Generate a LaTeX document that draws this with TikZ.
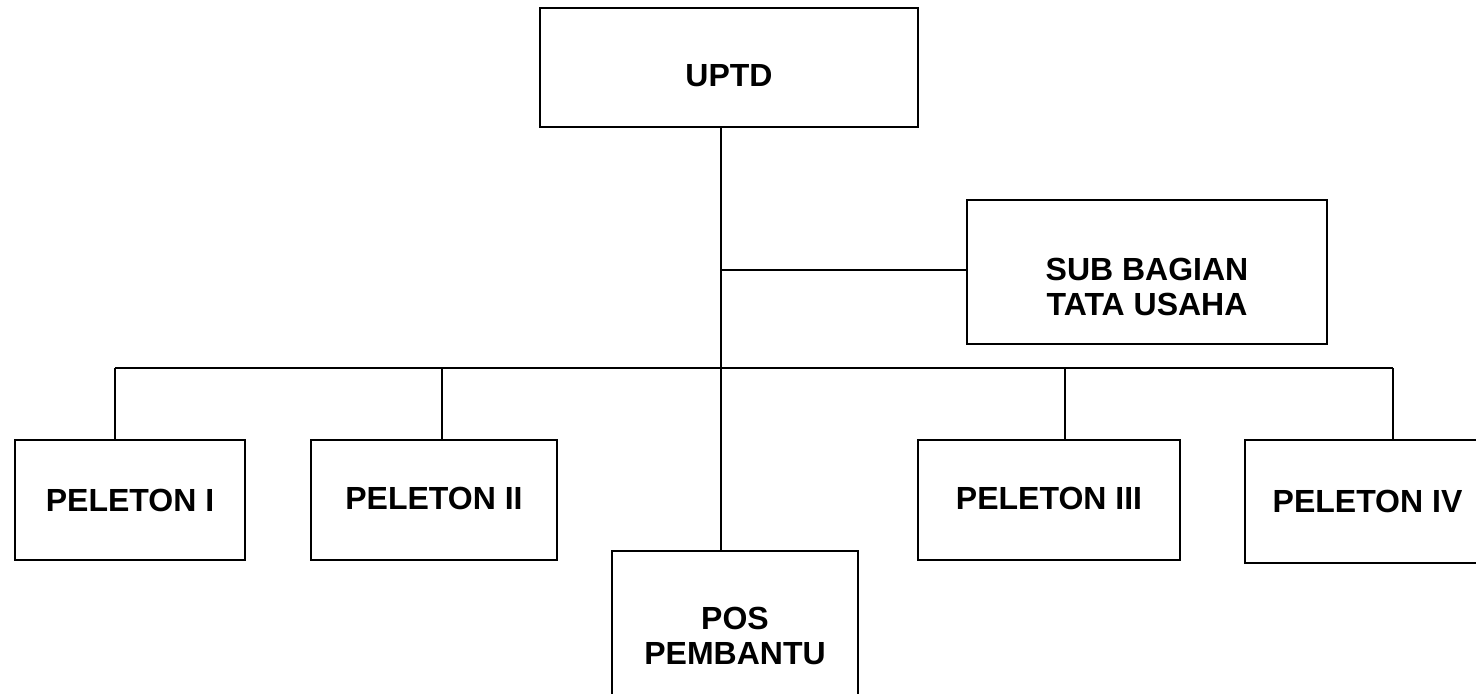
\documentclass[tikz,border=0pt]{standalone}
\usepackage{fontspec}
\setmainfont{Liberation Sans}
\begin{document}
\begin{tikzpicture}[x=0.5pt,y=-0.5pt,
  box/.style={draw=black, line width=1.2pt, rectangle, inner sep=0pt,
    font=\fontsize{16}{17.5}\selectfont\bfseries, align=center},
  boxtext/.style={font=\fontsize{16}{17.5}\selectfont\bfseries, align=center},
  conn/.style={draw=black, line width=1pt}]
\useasboundingbox (0,0) rectangle (1476,693);
\begin{scope}
\clip (0,0) rectangle (1476,693);
\node[box, minimum width=189pt, minimum height=59.5pt,
  label={[boxtext, yshift=-4pt]center:UPTD}] (uptd) at (729,67.5) {};
\node[box, minimum width=180pt, minimum height=72pt,
  label={[boxtext, yshift=-7.5pt]center:SUB BAGIAN\\TATA USAHA}] (sub) at (1147,272) {};
\node[box, minimum width=115pt, minimum height=60pt] (p1) at (130,500) {PELETON I};
\node[box, minimum width=123pt, minimum height=60pt,
  label={[boxtext, yshift=1pt]center:PELETON II}] (p2) at (434,500) {};
\node[box, minimum width=123pt, minimum height=85pt] (pos) at (735,636) {POS\\PEMBANTU};
\node[box, minimum width=131pt, minimum height=60pt,
  label={[boxtext, yshift=1pt]center:PELETON III}] (p3) at (1049,500) {};
\node[box, minimum width=122.5pt, minimum height=61.5pt] (p4) at (1367.5,501.5) {PELETON IV};
\coordinate (t) at (721,0);
\coordinate (bus) at (0,368);
\coordinate (d1) at (115,0);
\coordinate (d2) at (442,0);
\coordinate (d3) at (1065,0);
\coordinate (d4) at (1393,0);
\draw[conn] (uptd.south -| t) -- (pos.north -| t);
\draw[conn] (sub.west |- 0,270) -- (t |- 0,270);
\draw[conn] (d1 |- bus) -- (d4 |- bus);
\draw[conn] (d1 |- bus) -- (d1 |- p1.north);
\draw[conn] (d2 |- bus) -- (d2 |- p2.north);
\draw[conn] (d3 |- bus) -- (d3 |- p3.north);
\draw[conn] (d4 |- bus) -- (d4 |- p4.north);
\end{scope}
\end{tikzpicture}
\end{document}
